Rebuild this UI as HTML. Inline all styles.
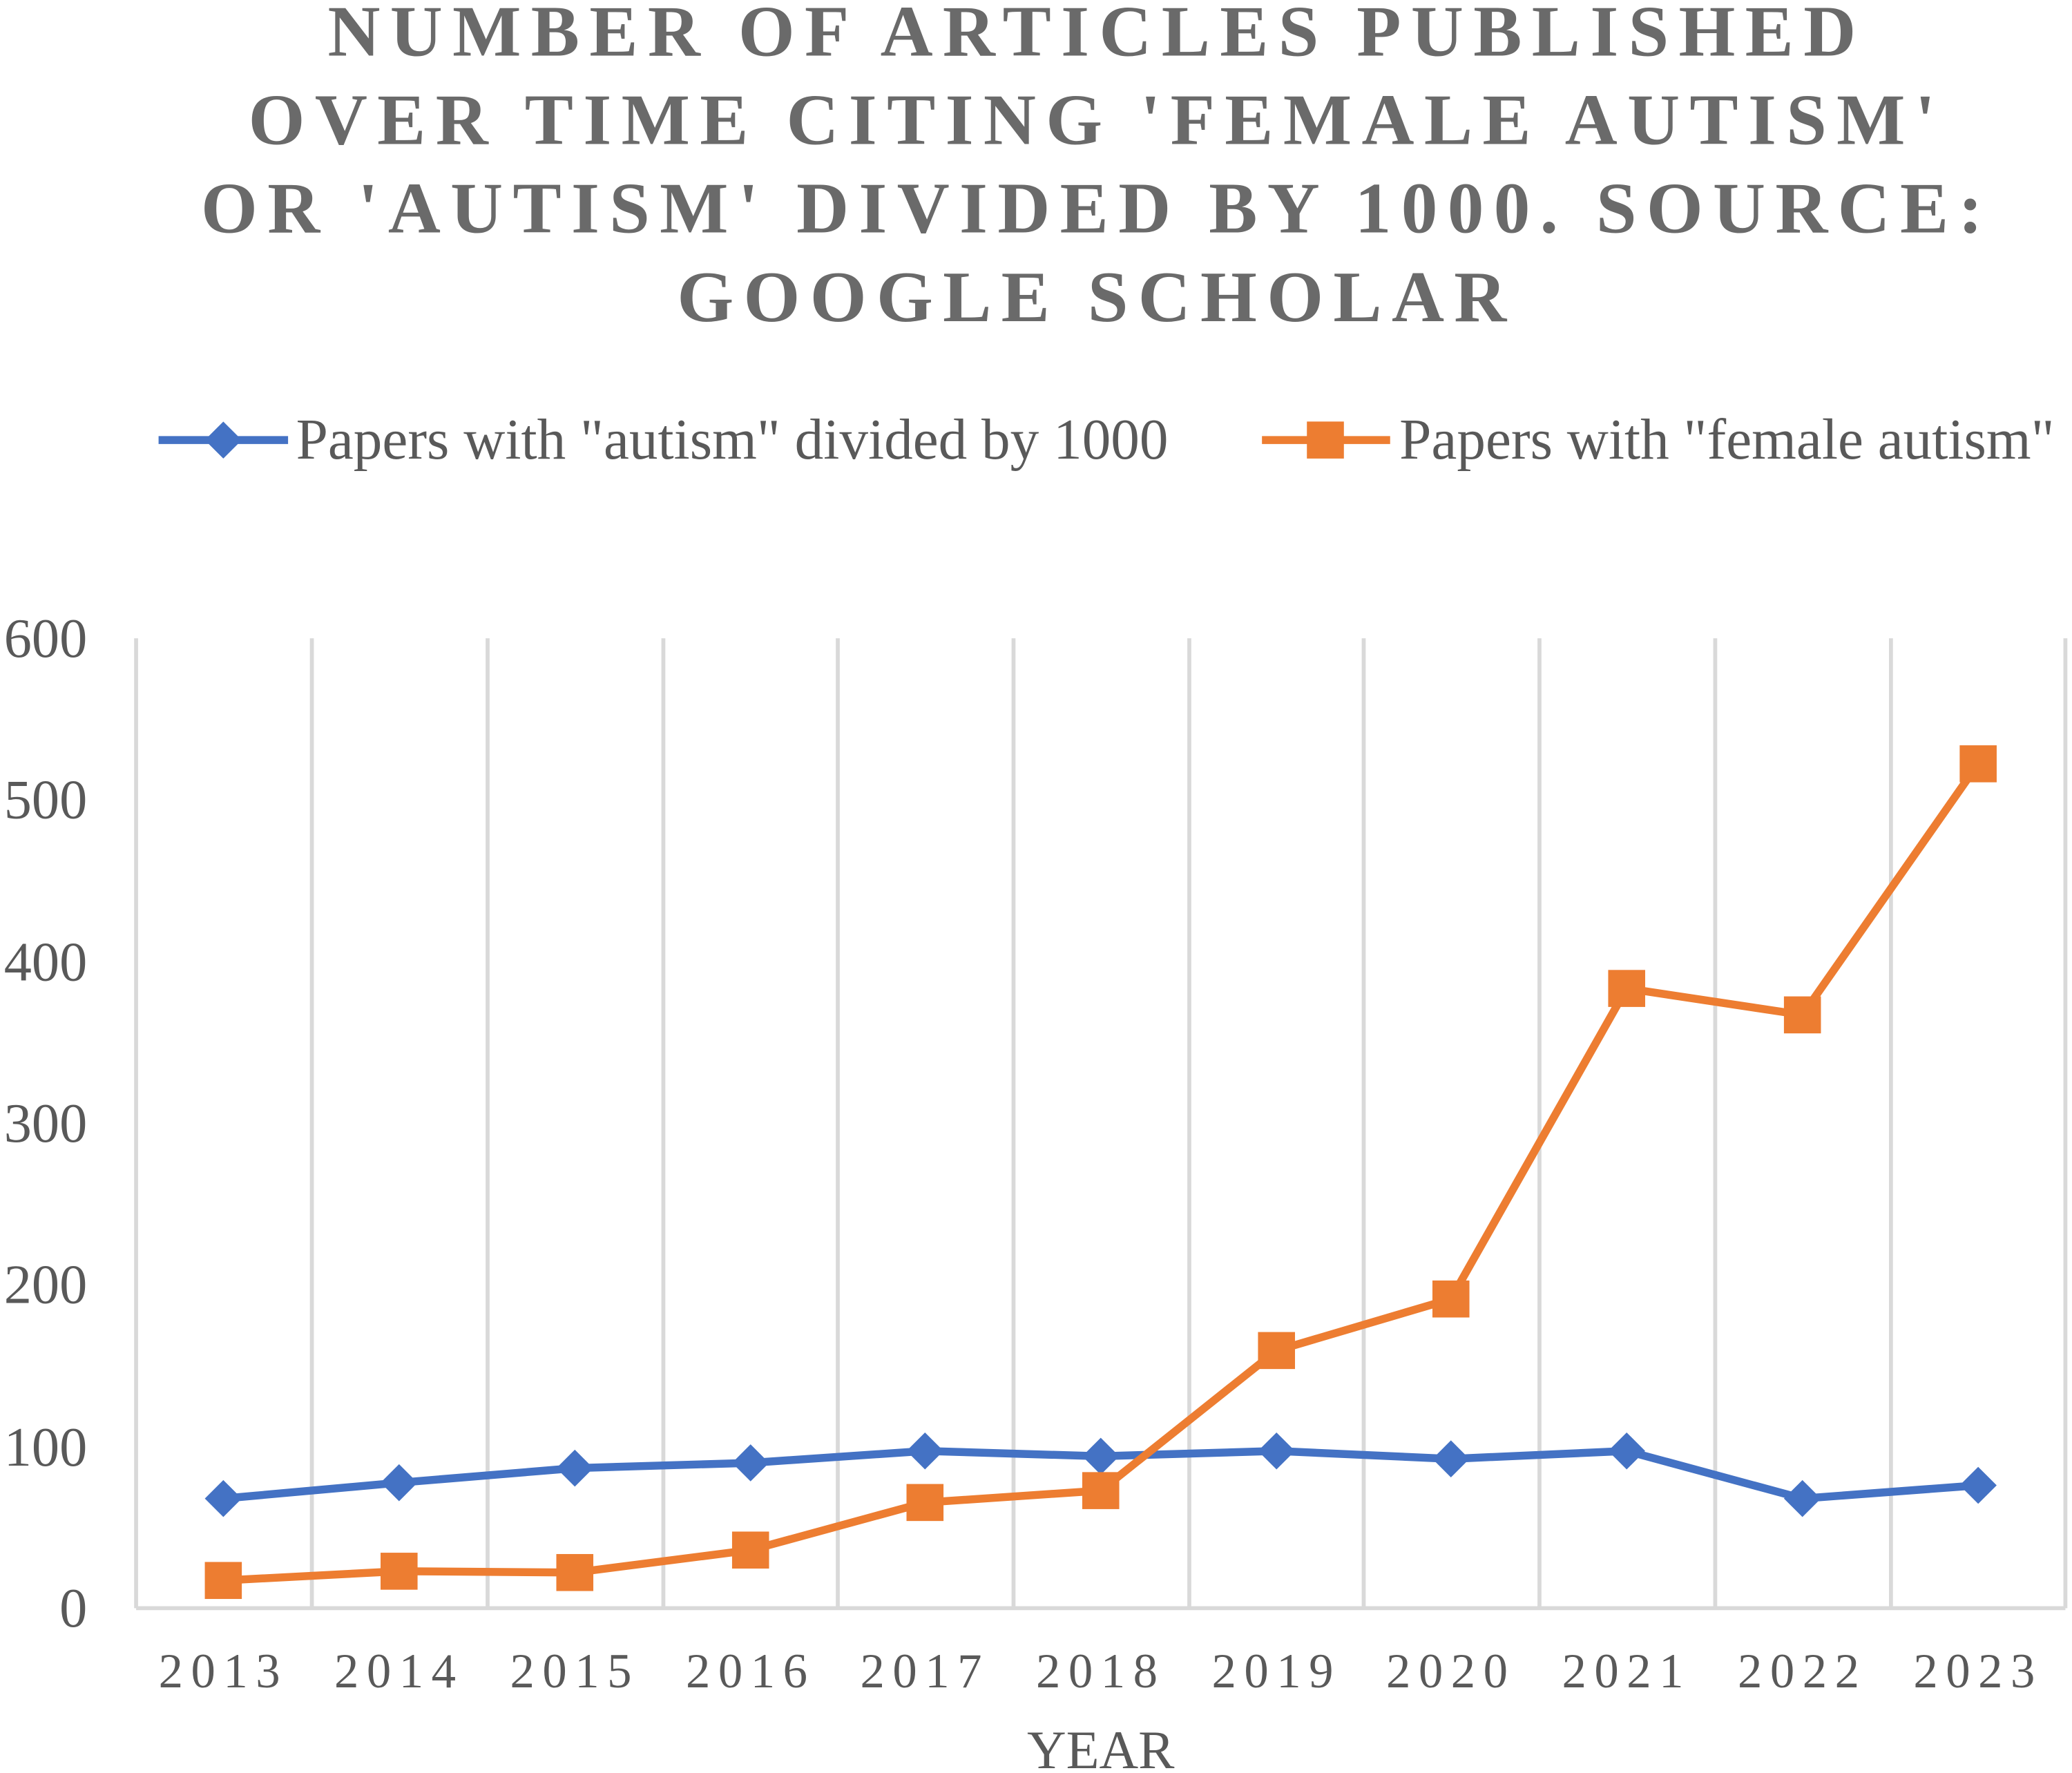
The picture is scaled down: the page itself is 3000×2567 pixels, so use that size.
<!DOCTYPE html>
<html><head><meta charset="utf-8"><style>
html,body{margin:0;padding:0;background:#fff;}
svg{display:block;}
</style></head><body>
<svg width="3000" height="2567" viewBox="0 0 1568 1341.7" preserveAspectRatio="none" xmlns="http://www.w3.org/2000/svg">
<rect width="1568" height="1342" fill="#fff"/>
<g font-family="Liberation Serif, serif" font-weight="bold" fill="#6a6a6a" font-size="55" text-anchor="middle" letter-spacing="7.5">
<text x="830" y="42">NUMBER OF ARTICLES PUBLISHED</text>
<text x="830" y="109">OVER TIME CITING 'FEMALE AUTISM'</text>
<text x="830" y="176">OR 'AUTISM' DIVIDED BY 1000. SOURCE:</text>
<text x="830" y="243">GOOGLE SCHOLAR</text>
</g>
<g font-family="Liberation Serif, serif" fill="#595959" font-size="43.5">
<line x1="120" y1="333" x2="218" y2="333" stroke="#4472C4" stroke-width="6"/>
<polygon points="169,319 183,333 169,347 155,333" fill="#4472C4"/>
<text x="224" y="347">Papers with "autism" divided by 1000</text>
<line x1="955" y1="333" x2="1052" y2="333" stroke="#ED7D31" stroke-width="6"/>
<rect x="989" y="319" width="28" height="28" fill="#ED7D31"/>
<text x="1059" y="347">Papers with "female autism"</text>
</g>
<g stroke="#d9d9d9" stroke-width="3">
<line x1="103" y1="483" x2="103" y2="1217"/>
<line x1="236" y1="483" x2="236" y2="1217"/>
<line x1="369" y1="483" x2="369" y2="1217"/>
<line x1="502" y1="483" x2="502" y2="1217"/>
<line x1="634" y1="483" x2="634" y2="1217"/>
<line x1="767" y1="483" x2="767" y2="1217"/>
<line x1="900" y1="483" x2="900" y2="1217"/>
<line x1="1032" y1="483" x2="1032" y2="1217"/>
<line x1="1165" y1="483" x2="1165" y2="1217"/>
<line x1="1298" y1="483" x2="1298" y2="1217"/>
<line x1="1431" y1="483" x2="1431" y2="1217"/>
<line x1="1563" y1="483" x2="1563" y2="1217"/>
<line x1="103" y1="1217" x2="1563" y2="1217"/>
</g>
<g font-family="Liberation Serif, serif" fill="#595959" font-size="42" text-anchor="end">
<text x="66" y="497">600</text>
<text x="66" y="619">500</text>
<text x="66" y="742">400</text>
<text x="66" y="864">300</text>
<text x="66" y="986">200</text>
<text x="66" y="1109">100</text>
<text x="66" y="1231">0</text>
</g>
<g font-family="Liberation Serif, serif" fill="#595959" font-size="37" text-anchor="middle" letter-spacing="6">
<text x="169" y="1277">2013</text><text x="302" y="1277">2014</text><text x="435" y="1277">2015</text>
<text x="568" y="1277">2016</text><text x="700" y="1277">2017</text><text x="833" y="1277">2018</text>
<text x="966" y="1277">2019</text><text x="1098" y="1277">2020</text><text x="1231" y="1277">2021</text>
<text x="1364" y="1277">2022</text><text x="1497" y="1277">2023</text>
</g>
<text x="833" y="1338" font-family="Liberation Serif, serif" fill="#595959" font-size="41" text-anchor="middle">YEAR</text>
<polyline fill="none" stroke="#4472C4" stroke-width="6" stroke-linejoin="round" points="169,1134 302,1122 435,1111 568,1107 700,1098 833,1102 966,1098 1098,1104 1231,1098 1364,1134 1497,1124"/>
<g fill="#4472C4">
<polygon points="169,1120 183,1134 169,1148 155,1134"/>
<polygon points="302,1108 316,1122 302,1136 288,1122"/>
<polygon points="435,1097 449,1111 435,1125 421,1111"/>
<polygon points="568,1093 582,1107 568,1121 554,1107"/>
<polygon points="700,1084 714,1098 700,1112 686,1098"/>
<polygon points="833,1088 847,1102 833,1116 819,1102"/>
<polygon points="966,1084 980,1098 966,1112 952,1098"/>
<polygon points="1098,1090 1112,1104 1098,1118 1084,1104"/>
<polygon points="1231,1084 1245,1098 1231,1112 1217,1098"/>
<polygon points="1364,1120 1378,1134 1364,1148 1350,1134"/>
<polygon points="1497,1110 1511,1124 1497,1138 1483,1124"/>
</g>
<polyline fill="none" stroke="#ED7D31" stroke-width="6" stroke-linejoin="round" points="169,1196 302,1189 435,1190 568,1173 700,1137 833,1128 966,1022 1098,983 1231,748 1364,768 1497,578"/>
<g fill="#ED7D31">
<rect x="155" y="1182" width="28" height="28"/>
<rect x="288" y="1175" width="28" height="28"/>
<rect x="421" y="1176" width="28" height="28"/>
<rect x="554" y="1159" width="28" height="28"/>
<rect x="686" y="1123" width="28" height="28"/>
<rect x="819" y="1114" width="28" height="28"/>
<rect x="952" y="1008" width="28" height="28"/>
<rect x="1084" y="969" width="28" height="28"/>
<rect x="1217" y="734" width="28" height="28"/>
<rect x="1350" y="754" width="28" height="28"/>
<rect x="1483" y="564" width="28" height="28"/>
</g>
</svg>
</body></html>
